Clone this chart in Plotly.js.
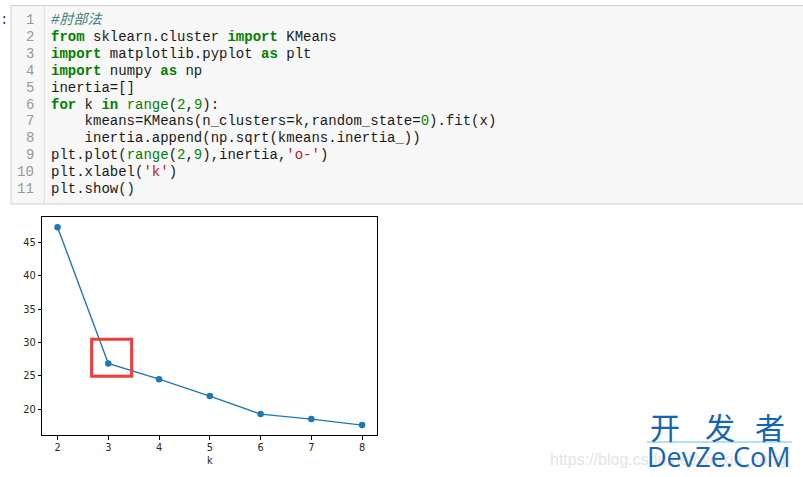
<!DOCTYPE html>
<html>
<head>
<meta charset="utf-8">
<script src="https://cdn.plot.ly/plotly-3.0.1.min.js"></script>
<style>html,body{margin:0;padding:0;background:#fff;}#plot{width:803px;height:477px;}</style>
</head>
<body>
<div id="plot"></div>
<script>
// ---- chart data ----
const kValues = [2, 3, 4, 5, 6, 7, 8];
const inertiaSqrt = [47.3, 26.85, 24.5, 21.95, 19.25, 18.5, 17.6];
const xTickLabels = ['2', '3', '4', '5', '6', '7', '8'];
const yTickValues = [20, 25, 30, 35, 40, 45];
const xAxisLabel = 'k';

// ---- notebook code cell text ----
const K = 'color:#008000;font-weight:bold';
const B = 'color:#008000';
const N = 'color:#008800';
const S = 'color:#BA2121';
const C = 'color:#408080;font-style:italic';
const codeLines = [
  [['#肘部法', C]],
  [['from', K], [' sklearn.cluster ', null], ['import', K], [' KMeans', null]],
  [['import', K], [' matplotlib.pyplot ', null], ['as', K], [' plt', null]],
  [['import', K], [' numpy ', null], ['as', K], [' np', null]],
  [['inertia=[]', null]],
  [['for', K], [' k ', null], ['in', K], [' ', null], ['range', B], ['(', null], ['2', N], [',', null], ['9', N], ['):', null]],
  [['    kmeans=KMeans(n_clusters=k,random_state=', null], ['0', N], [').fit(x)', null]],
  [['    inertia.append(np.sqrt(kmeans.inertia_))', null]],
  [['plt.plot(', null], ['range', B], ['(', null], ['2', N], [',', null], ['9', N], ['),inertia,', null], ["'o-'", S], [')', null]],
  [['plt.xlabel(', null], ["'k'", S], [')', null]],
  [['plt.show()', null]]
];
const watermarkChars = ['开', '发', '者'];

const W = 803, H = 477;
const px = x => x / W;
const py = y => 1 - y / H;

function tok(t, style) {
  const txt = t.replace(/ /g, '\u00a0');
  if (!style) return txt;
  let inner = txt;
  if (style.indexOf('font-weight:bold') >= 0) inner = '<b>' + inner + '</b>';
  if (style.indexOf('font-style:italic') >= 0) inner = '<i>' + inner + '</i>';
  const col = style.match(/color:(#[0-9A-Fa-f]+)/)[1];
  return '<span style="color:' + col + '">' + inner + '</span>';
}

const monoFont = 'Liberation Mono, Courier New, Noto Sans CJK SC, monospace';
const annotations = [];
codeLines.forEach((line, i) => {
  const yc = 20 + 16.9 * i;
  annotations.push({
    xref: 'paper', yref: 'paper', x: px(35.5), y: py(yc), xanchor: 'right', yanchor: 'middle',
    text: String(i + 1), showarrow: false, font: {family: monoFont, size: 14, color: '#999999'}
  });
  annotations.push({
    xref: 'paper', yref: 'paper', x: px(49), y: py(yc), xanchor: 'left', yanchor: 'middle',
    text: line.map(p => tok(p[0], p[1])).join(''), showarrow: false,
    font: {family: monoFont, size: 14, color: '#1a1a1a'}
  });
});
annotations.push({
  xref: 'paper', yref: 'paper', x: px(-2), y: py(20), xanchor: 'left', yanchor: 'middle',
  text: ':', showarrow: false, font: {family: monoFont, size: 14, color: '#303F9F'}
});
// faint blog watermark
annotations.push({
  xref: 'paper', yref: 'paper', x: px(548), y: py(460), xanchor: 'left', yanchor: 'middle',
  text: 'https://blog.csdn.net/weixin_sang', showarrow: false,
  font: {family: 'Liberation Sans, Arial, sans-serif', size: 16, color: '#e4e4e4'}
});
// DevZe watermark
const wmCenters = [665, 720, 770];
watermarkChars.forEach((ch, i) => {
  annotations.push({
    xref: 'paper', yref: 'paper', x: px(wmCenters[i]), y: py(426), xanchor: 'center', yanchor: 'middle',
    text: ch, showarrow: false,
    font: {family: 'Noto Sans CJK SC, sans-serif', size: 30, color: '#1565B5'}
  });
});
annotations.push({
  xref: 'paper', yref: 'paper', x: px(718.5), y: py(456), xanchor: 'center', yanchor: 'middle',
  text: 'DevZe.CoM', showarrow: false,
  font: {family: 'Open Sans, Noto Sans, sans-serif', size: 27, color: '#1565B5'}
});

// axis ranges like matplotlib (5% margins)
const yMin = Math.min(...inertiaSqrt), yMax = Math.max(...inertiaSqrt);
const ySpan = yMax - yMin;
const xMin = Math.min(...kValues), xMax = Math.max(...kValues);
const xSpan = xMax - xMin;

const tickFont = {family: 'DejaVu Sans, sans-serif', size: 9.8, color: '#262626'};

const trace = {
  x: kValues, y: inertiaSqrt, type: 'scatter', mode: 'lines+markers',
  line: {color: '#1f77b4', width: 1.4},
  marker: {color: '#1f77b4', size: 6.5},
  hoverinfo: 'skip'
};

const layout = {
  width: W, height: H,
  margin: {l: 0, r: 0, t: 0, b: 0, pad: 0},
  paper_bgcolor: '#ffffff', plot_bgcolor: '#ffffff',
  showlegend: false,
  xaxis: {
    domain: [px(42.3), px(377.3)],
    range: [xMin - 0.05 * xSpan, xMax + 0.05 * xSpan],
    tickmode: 'array', tickvals: kValues, ticktext: xTickLabels,
    ticks: 'outside', ticklen: 3.5, tickwidth: 1, tickcolor: '#000',
    showline: true, linecolor: '#000', linewidth: 1, mirror: true,
    showgrid: false, zeroline: false, tickfont: tickFont,
    title: {text: xAxisLabel, font: {family: 'DejaVu Sans, sans-serif', size: 9.8, color: '#262626'}, standoff: 4}
  },
  yaxis: {
    domain: [py(435), py(217.3)],
    range: [yMin - 0.05 * ySpan, yMax + 0.05 * ySpan],
    tickmode: 'array', tickvals: yTickValues,
    ticks: 'outside', ticklen: 3.5, tickwidth: 1, tickcolor: '#000',
    showline: true, linecolor: '#000', linewidth: 1, mirror: true,
    showgrid: false, zeroline: false, tickfont: tickFont
  },
  shapes: [
    {type: 'rect', xref: 'paper', yref: 'paper', x0: px(11), x1: px(806), y0: py(204), y1: py(5.5),
     fillcolor: '#f7f7f7', line: {color: '#cfcfcf', width: 1}, layer: 'below'},
    {type: 'line', xref: 'paper', yref: 'paper', x0: px(44.3), x1: px(44.3), y0: py(204), y1: py(5.5),
     line: {color: '#dddddd', width: 1}, layer: 'below'},
    {type: 'line', xref: 'paper', yref: 'paper', x0: px(647), x1: px(792), y0: py(442), y1: py(442),
     line: {color: '#62c3ee', width: 1}},
    {type: 'rect', xref: 'x', yref: 'y', x0: 2.672, x1: 3.46, y0: 24.95, y1: 30.5,
     line: {color: '#f23a3a', width: 3}, fillcolor: 'rgba(0,0,0,0)'}
  ],
  annotations: annotations
};

Plotly.newPlot('plot', [trace], layout, {staticPlot: true, displayModeBar: false});
</script>
</body>
</html>
